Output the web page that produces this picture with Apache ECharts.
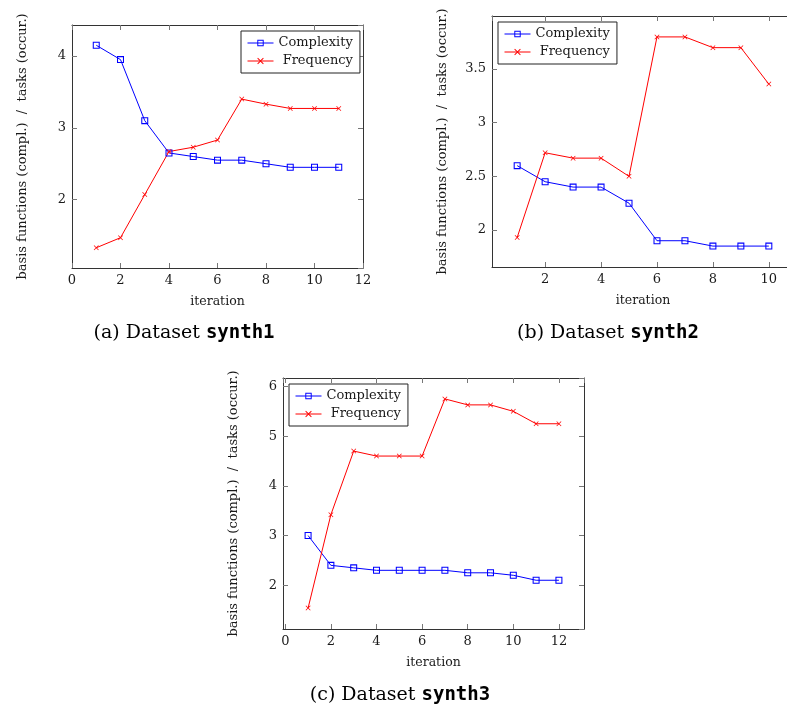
<!DOCTYPE html>
<html>
<head>
<meta charset="utf-8">
<script src="https://cdn.jsdelivr.net/npm/echarts@6/dist/echarts.min.js"></script>
<style>
  html, body { margin: 0; padding: 0; background: #fff; }
  #chart { width: 787px; height: 709px; }
</style>
</head>
<body>
<div id="chart"></div>
<script>
// data
const iterA = [1, 2, 3, 4, 5, 6, 7, 8, 9, 10, 11];
const complexityA = [4.15, 3.95, 3.1, 2.65, 2.6, 2.55, 2.55, 2.5, 2.45, 2.45, 2.45];
const frequencyA = [1.33, 1.47, 2.07, 2.67, 2.73, 2.83, 3.4, 3.33, 3.27, 3.27, 3.27];

const iterB = [1, 2, 3, 4, 5, 6, 7, 8, 9, 10];
const complexityB = [2.6, 2.45, 2.4, 2.4, 2.25, 1.9, 1.9, 1.85, 1.85, 1.85];
const frequencyB = [1.93, 2.72, 2.67, 2.67, 2.5, 3.8, 3.8, 3.7, 3.7, 3.36];

const iterC = [1, 2, 3, 4, 5, 6, 7, 8, 9, 10, 11, 12];
const complexityC = [3.0, 2.4, 2.35, 2.3, 2.3, 2.3, 2.3, 2.25, 2.25, 2.2, 2.1, 2.1];
const frequencyC = [1.54, 3.42, 4.7, 4.6, 4.6, 4.6, 5.75, 5.63, 5.63, 5.5, 5.25, 5.25];

const seriesNames = ['Complexity', 'Frequency'];
const captions = ['(a) Dataset {tt|synth1}', '(b) Dataset {tt|synth2}', '(c) Dataset {tt|synth3}'];
const xName = 'iteration';
const yName = 'basis functions (compl.)  /  tasks (occur.)';

const SERIF = 'DejaVu Serif';
const TXT = '#1a1a1a';
// open square (ring) and small x cross as filled paths
const squarePath = 'path://M0,0H10V10H0Z M1.5,1.5V8.5H8.5V1.5Z';
const crossPath = 'path://M0,1L1,0L5,4L9,0L10,1L6,5L10,9L9,10L5,6L1,10L0,9L4,5Z';

function pairs(xs, ys) {
  return xs.map((x, i) => [x, ys[i]]);
}

function tickStyle() {
  return { show: true, inside: true, length: 5, lineStyle: { color: '#777', width: 1 } };
}

function xAxes(grid, min, max, split, showEnds) {
  const base = {
    type: 'value', gridIndex: grid, min: min, max: max, splitNumber: split,
    axisLine: { show: true, onZero: false, lineStyle: { color: '#333', width: 1 } },
    axisTick: tickStyle(),
    splitLine: { show: false }
  };
  return [
    Object.assign({}, base, {
      position: 'bottom',
      name: xName, nameLocation: 'middle', nameGap: 27,
      nameTextStyle: { fontFamily: SERIF, fontSize: 12.5, color: TXT },
      axisLabel: { fontFamily: SERIF, fontSize: 13, color: TXT, margin: 6,
        showMinLabel: showEnds, showMaxLabel: showEnds }
    }),
    Object.assign({}, base, { position: 'top', axisLabel: { show: false } })
  ];
}

function yAxes(grid, min, max, split) {
  const base = {
    type: 'value', gridIndex: grid, min: min, max: max, splitNumber: split,
    axisLine: { show: true, onZero: false, lineStyle: { color: '#333', width: 1 } },
    axisTick: tickStyle(),
    splitLine: { show: false }
  };
  return [
    Object.assign({}, base, {
      position: 'left',
      name: yName, nameLocation: 'middle', nameGap: 43,
      nameTextStyle: { fontFamily: SERIF, fontSize: 13, color: TXT },
      axisLabel: { fontFamily: SERIF, fontSize: 13, color: TXT, margin: 6,
        showMinLabel: false, showMaxLabel: false }
    }),
    Object.assign({}, base, { position: 'right', axisLabel: { show: false } })
  ];
}

function lineSeries(i, name, xs, ys) {
  const isC = name === 'Complexity';
  const color = isC ? '#0000ff' : '#ff0000';
  return {
    type: 'line', name: name,
    xAxisIndex: 2 * i, yAxisIndex: 2 * i,
    data: pairs(xs, ys),
    symbol: isC ? squarePath : crossPath,
    symbolSize: isC ? 7 : 5,
    showAllSymbol: true,
    lineStyle: { color: color, width: 1 },
    itemStyle: { color: color, borderWidth: 0 },
    emphasis: { disabled: true },
    animation: false
  };
}

function legendAt(i, left, top) {
  return {
    seriesIndex: [2 * i, 2 * i + 1],
    data: seriesNames,
    orient: 'vertical', left: left, top: top,
    backgroundColor: '#fff',
    borderColor: '#222', borderWidth: 1, borderRadius: 0,
    padding: [5, 7, 5, 6],
    itemWidth: 26, itemHeight: 8, itemGap: 4,
    lineStyle: { width: 1 },
    itemStyle: { borderWidth: 0 },
    formatter: name => (name === 'Frequency' ? ' ' + name : name),
    textStyle: { fontFamily: SERIF, fontSize: 13, color: TXT, lineHeight: 14 },
    selectedMode: false
  };
}

const chart = echarts.init(document.getElementById('chart'), null, { renderer: 'canvas' });

const option = {
  backgroundColor: '#fff',
  animation: false,
  grid: [
    { left: 72, top: 25, width: 291, height: 243, outerBoundsMode: 'none' },
    { left: 492, top: 16, width: 302, height: 251, outerBoundsMode: 'none' },
    { left: 283, top: 378, width: 301, height: 251, outerBoundsMode: 'none' }
  ],
  xAxis: [].concat(
    xAxes(0, 0, 12, 6, true),
    xAxes(1, 0.1, 10.9, 5, false),
    xAxes(2, -0.1, 13.1, 6, false)
  ),
  yAxis: [].concat(
    yAxes(0, 1.048, 4.432, 4),
    yAxes(1, 1.655, 3.995, 5),
    yAxes(2, 1.119, 6.171, 5)
  ),
  legend: [
    legendAt(0, 241, 31),
    legendAt(1, 498, 22),
    legendAt(2, 289, 384)
  ],
  series: [
    lineSeries(0, 'Complexity', iterA, complexityA),
    lineSeries(0, 'Frequency', iterA, frequencyA),
    lineSeries(1, 'Complexity', iterB, complexityB),
    lineSeries(1, 'Frequency', iterB, frequencyB),
    lineSeries(2, 'Complexity', iterC, complexityC),
    lineSeries(2, 'Frequency', iterC, frequencyC)
  ],
  graphic: [
    [184, 333], [608, 333], [400, 695]
  ].map((pos, i) => ({
    type: 'text', x: pos[0], y: pos[1], silent: true,
    style: {
      text: captions[i],
      fontFamily: SERIF, fontSize: 19, fill: '#000',
      align: 'center', verticalAlign: 'middle',
      rich: {
        tt: { fontFamily: 'DejaVu Sans Mono', fontWeight: 'bold', fontSize: 19, fill: '#000' }
      }
    }
  }))
};

chart.setOption(option);
</script>
</body>
</html>
